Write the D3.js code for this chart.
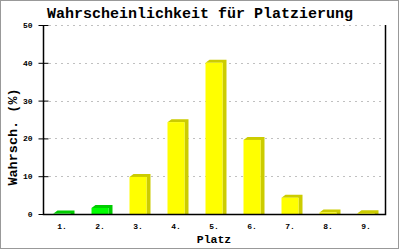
<!DOCTYPE html>
<html>
<head>
<meta charset="utf-8">
<script src="https://cdn.jsdelivr.net/npm/d3@7"></script>
<style>
  body { margin: 0; background: #fff; }
  svg { display: block; }
  text { font-family: "Liberation Mono", "DejaVu Sans Mono", monospace; font-weight: bold; fill: #000; }
</style>
</head>
<body>
<svg id="chart"></svg>
<script>
// data
const places = ['1.', '2.', '3.', '4.', '5.', '6.', '7.', '8.', '9.'];
const probs = [0.1, 1.6, 9.8, 24.3, 40.0, 19.6, 4.3, 0.4, 0.2];
const barKinds = ['green', 'green', 'yellow', 'yellow', 'yellow', 'yellow', 'yellow', 'yellow', 'yellow'];
const yTicks = [0, 10, 20, 30, 40, 50];

const colours = {
    green: { front: '#00ff00', dark: '#00cc00' },
    yellow: { front: '#ffff00', dark: '#cccc00' }
};

const width = 400, height = 250;
const margin = { top: 25, right: 15, bottom: 36, left: 43 };

const svg = d3.select('#chart')
    .attr('width', width)
    .attr('height', height);

// outer frame
svg.append('rect')
    .attr('x', 0.5).attr('y', 0.5)
    .attr('width', 398).attr('height', 248)
    .attr('fill', '#fff')
    .attr('stroke', '#999');

const x = d3.scaleBand()
    .domain(places)
    .range([margin.left, width - margin.right]);

const y = d3.scaleLinear()
    .domain([0, 50])
    .range([height - margin.bottom, margin.top]);

const x0 = margin.left, x1 = width - margin.right;
const y0 = y(0), yTop = y(50);

// dashed grid
svg.append('g')
    .selectAll('line')
    .data(yTicks.filter(t => t > 0))
    .enter()
    .append('line')
    .attr('x1', x0).attr('x2', x1)
    .attr('y1', d => Math.round(y(d)) + 0.5)
    .attr('y2', d => Math.round(y(d)) + 0.5)
    .attr('stroke', '#c0c0c0')
    .attr('stroke-dasharray', '2,4');

// bars with a small 3d side and top
const barW = 17, dx = 4, dy = 3;
const bars = svg.append('g')
    .selectAll('g')
    .data(places.map((p, i) => ({ place: p, value: probs[i], kind: barKinds[i] })))
    .enter()
    .append('g');

bars.append('path')
    .attr('fill', d => colours[d.kind].dark)
    .attr('d', d => {
        const left = x(d.place) + x.bandwidth() / 2 - barW / 2;
        const right = left + barW;
        const top = y(d.value);
        return `M${left},${top}L${left + dx},${top - dy}L${right + dx},${top - dy}L${right + dx},${y0}L${right},${y0}L${right},${top}Z`;
    });

bars.append('rect')
    .attr('fill', d => colours[d.kind].front)
    .attr('x', d => x(d.place) + x.bandwidth() / 2 - barW / 2)
    .attr('y', d => y(d.value))
    .attr('width', barW)
    .attr('height', d => y0 - y(d.value));

// axes
const yAxis = d3.axisLeft(y)
    .tickValues(yTicks)
    .tickSize(5)
    .tickPadding(6);

const yAxisG = svg.append('g')
    .attr('transform', `translate(${x0 + 0.5},0)`)
    .call(yAxis);
yAxisG.select('.domain').remove();
yAxisG.selectAll('.tick line').attr('x1', -5).attr('x2', 5).attr('stroke', '#000');
yAxisG.selectAll('text')
    .style('font-size', '8px')
    .style('font-family', '"Liberation Mono", monospace')
    .style('font-weight', 'bold')
    .attr('fill', '#000');

const xAxis = d3.axisBottom(x).tickSize(0).tickPadding(9);
const xAxisG = svg.append('g')
    .attr('transform', `translate(0,${y0})`)
    .call(xAxis);
xAxisG.select('.domain').remove();
xAxisG.selectAll('text')
    .style('font-size', '8px')
    .style('font-family', '"Liberation Mono", monospace')
    .style('font-weight', 'bold')
    .attr('fill', '#000');

// frame lines: left, bottom, right
svg.append('path')
    .attr('fill', 'none')
    .attr('stroke', '#000')
    .attr('stroke-width', 1.5)
    .attr('d', `M${x0 + 0.5},${yTop}V${y0 + 0.5}H${x1 + 0.5}V${yTop}`);

// titles
svg.append('text')
    .attr('x', 200).attr('y', 18)
    .attr('text-anchor', 'middle')
    .style('font-size', '15px')
    .text('Wahrscheinlichkeit für Platzierung');

svg.append('text')
    .attr('x', 214).attr('y', 243)
    .attr('text-anchor', 'middle')
    .style('font-size', '11.5px')
    .text('Platz');

svg.append('text')
    .attr('transform', 'translate(17,137) rotate(-90)')
    .attr('text-anchor', 'middle')
    .style('font-size', '13.5px')
    .text('Wahrsch. (%)');
</script>
</body>
</html>
